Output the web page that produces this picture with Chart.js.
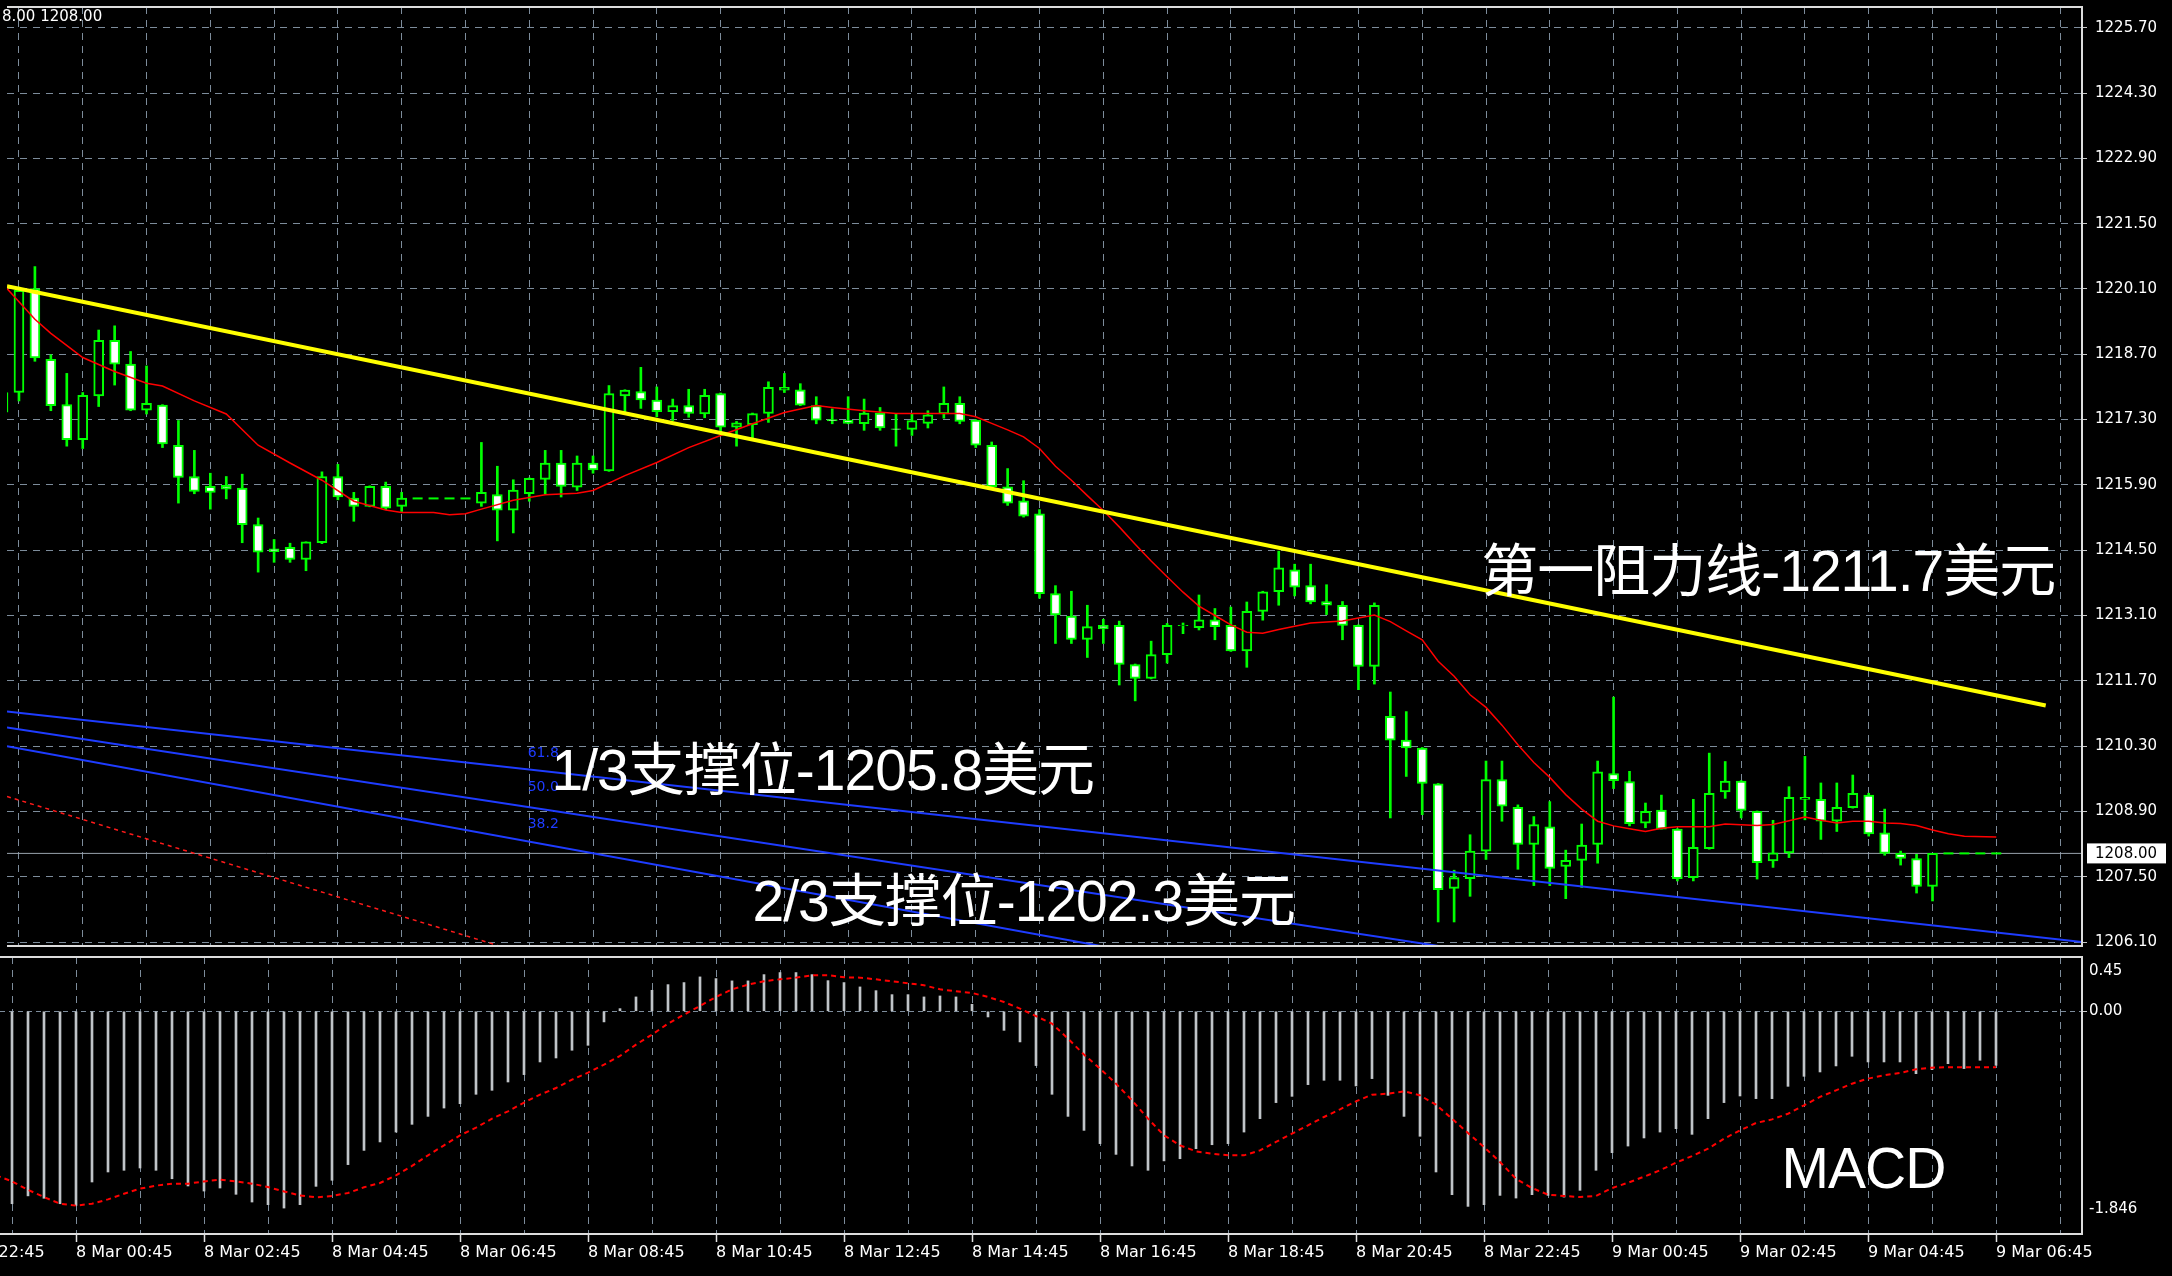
<!DOCTYPE html>
<html>
<head>
<meta charset="utf-8">
<script src="https://cdn.jsdelivr.net/npm/chart.js@4.4.0/dist/chart.umd.min.js"></script>
<style>
  body { margin: 0; background: #000; width: 2172px; height: 1276px; overflow: hidden; }
  #main { position: absolute; left: 0; top: 0; width: 2172px; height: 953px; }
  #macd { position: absolute; left: 0; top: 953px; width: 2172px; height: 323px; }
</style>
</head>
<body>
<div id="main"><canvas id="priceChart" width="2172" height="953"></canvas></div>
<div id="macd"><canvas id="macdChart" width="2172" height="323"></canvas></div>
<script>
// XAUUSD M15, bar 0 = 7 Mar 23:30
const opens = [
  1217.46, 1217.88, 1220.11, 1218.59, 1217.62, 1216.87, 1217.81, 1219.00, 1218.49, 1217.50,
  1217.61, 1216.75, 1216.08, 1215.87, 1215.89, 1215.83, 1215.05, 1214.53, 1214.56, 1214.30,
  1214.66, 1216.08, 1215.62, 1215.44, 1215.87, 1215.44, 1215.61, 1215.61, 1215.61, 1215.61,
  1215.51, 1215.69, 1215.36, 1215.71, 1216.02, 1216.37, 1215.85, 1216.37, 1216.20, 1217.81,
  1217.90, 1217.72, 1217.47, 1217.60, 1217.42, 1217.86, 1217.14, 1217.19, 1217.43, 1217.93,
  1217.94, 1217.60, 1217.30, 1217.29, 1217.21, 1217.44, 1217.10, 1217.09, 1217.22, 1217.42,
  1217.65, 1217.29, 1216.75, 1215.86, 1215.56, 1215.28, 1213.57, 1213.09, 1212.59, 1212.89,
  1212.89, 1212.05, 1211.75, 1212.26, 1212.88, 1212.84, 1213.01, 1212.89, 1212.34, 1213.19,
  1213.61, 1214.08, 1213.74, 1213.40, 1213.32, 1212.89, 1212.01, 1210.94, 1210.43, 1210.26,
  1209.49, 1207.25, 1207.46, 1208.05, 1209.58, 1208.99, 1208.19, 1208.57, 1207.72, 1207.85,
  1208.19, 1209.71, 1209.54, 1208.65, 1208.93, 1208.52, 1207.48, 1208.10, 1209.32, 1209.55,
  1208.90, 1207.84, 1208.01, 1209.16, 1209.16, 1208.69, 1208.98, 1209.25, 1208.44, 1208.00,
  1207.89, 1207.29, 1208.00, 1208.00, 1208.00, 1208.00
];
const highs = [
  1218.10, 1220.14, 1220.58, 1218.69, 1218.29, 1217.88, 1219.22, 1219.31, 1218.76, 1218.45,
  1217.62, 1217.28, 1216.64, 1216.15, 1216.08, 1216.13, 1215.19, 1214.73, 1214.65, 1214.68,
  1216.18, 1216.34, 1215.74, 1215.88, 1215.96, 1215.74, 1215.61, 1215.61, 1215.61, 1215.61,
  1216.81, 1216.30, 1216.01, 1216.05, 1216.64, 1216.64, 1216.52, 1216.52, 1218.03, 1217.94,
  1218.42, 1218.00, 1217.74, 1217.95, 1217.95, 1217.87, 1217.26, 1217.44, 1218.11, 1218.29,
  1218.07, 1217.79, 1217.53, 1217.79, 1217.74, 1217.56, 1217.42, 1217.42, 1217.49, 1218.00,
  1217.79, 1217.30, 1216.82, 1216.25, 1215.99, 1215.37, 1213.74, 1213.62, 1213.32, 1213.02,
  1212.98, 1212.06, 1212.55, 1212.93, 1212.94, 1213.54, 1213.25, 1213.28, 1213.39, 1213.62,
  1214.48, 1214.20, 1214.20, 1213.76, 1213.40, 1212.90, 1213.37, 1211.46, 1211.04, 1210.27,
  1209.50, 1207.64, 1208.40, 1209.98, 1209.98, 1209.04, 1208.79, 1209.11, 1208.07, 1208.63,
  1209.98, 1211.35, 1209.76, 1209.08, 1209.25, 1208.53, 1209.16, 1210.15, 1209.97, 1209.56,
  1208.91, 1208.71, 1209.43, 1210.08, 1209.51, 1209.51, 1209.68, 1209.29, 1208.95, 1208.05,
  1207.98, 1208.00, 1208.00, 1208.00, 1208.00, 1208.00
];
const lows = [
  1217.30, 1217.70, 1218.55, 1217.49, 1216.73, 1216.68, 1217.58, 1218.04, 1217.49, 1217.42,
  1216.70, 1215.51, 1215.71, 1215.38, 1215.60, 1214.66, 1214.03, 1214.24, 1214.24, 1214.06,
  1214.64, 1215.58, 1215.12, 1215.43, 1215.37, 1215.33, 1215.61, 1215.61, 1215.61, 1215.61,
  1215.44, 1214.70, 1214.87, 1215.55, 1215.71, 1215.64, 1215.78, 1216.15, 1216.19, 1217.46,
  1217.54, 1217.36, 1217.28, 1217.35, 1217.34, 1217.03, 1216.73, 1216.89, 1217.24, 1217.88,
  1217.60, 1217.21, 1217.21, 1217.21, 1217.07, 1217.07, 1216.73, 1216.96, 1217.12, 1217.33,
  1217.21, 1216.70, 1215.84, 1215.46, 1215.21, 1213.47, 1212.50, 1212.50, 1212.20, 1212.50,
  1211.61, 1211.27, 1211.74, 1212.08, 1212.71, 1212.79, 1212.58, 1212.33, 1211.99, 1213.00,
  1213.32, 1213.52, 1213.35, 1213.12, 1212.58, 1211.51, 1211.63, 1208.76, 1209.65, 1208.83,
  1206.53, 1206.53, 1207.08, 1207.87, 1208.69, 1207.66, 1207.31, 1207.31, 1207.03, 1207.27,
  1207.79, 1209.39, 1208.59, 1208.55, 1208.52, 1207.41, 1207.41, 1208.09, 1209.18, 1208.76,
  1207.45, 1207.70, 1207.91, 1208.72, 1208.30, 1208.47, 1208.97, 1208.37, 1207.96, 1207.75,
  1207.15, 1206.98, 1208.00, 1208.00, 1208.00, 1208.00
];
const closes = [
  1217.88, 1220.07, 1218.62, 1217.60, 1216.87, 1217.82, 1219.00, 1218.49, 1217.50, 1217.65,
  1216.78, 1216.06, 1215.76, 1215.74, 1215.81, 1215.05, 1214.46, 1214.47, 1214.30, 1214.68,
  1216.08, 1215.64, 1215.44, 1215.87, 1215.40, 1215.62, 1215.61, 1215.61, 1215.61, 1215.61,
  1215.74, 1215.36, 1215.79, 1216.04, 1216.37, 1215.87, 1216.37, 1216.22, 1217.86, 1217.93,
  1217.72, 1217.47, 1217.60, 1217.43, 1217.82, 1217.14, 1217.23, 1217.43, 1217.99, 1217.99,
  1217.61, 1217.29, 1217.27, 1217.22, 1217.44, 1217.12, 1217.09, 1217.28, 1217.40, 1217.65,
  1217.26, 1216.75, 1215.86, 1215.51, 1215.23, 1213.57, 1213.11, 1212.59, 1212.86, 1212.81,
  1212.05, 1211.75, 1212.26, 1212.89, 1212.89, 1213.01, 1212.86, 1212.34, 1213.19, 1213.61,
  1214.12, 1213.71, 1213.39, 1213.32, 1212.89, 1212.01, 1213.32, 1210.43, 1210.26, 1209.50,
  1207.22, 1207.48, 1208.05, 1209.58, 1209.01, 1208.19, 1208.62, 1207.68, 1207.85, 1208.18,
  1209.75, 1209.56, 1208.64, 1208.90, 1208.52, 1207.46, 1208.13, 1209.29, 1209.55, 1208.92,
  1207.80, 1208.01, 1209.20, 1209.20, 1208.69, 1208.99, 1209.29, 1208.42, 1208.00, 1207.89,
  1207.29, 1208.00, 1208.00, 1208.00, 1208.00, 1208.00
];

// red moving average, read at these bars
const maBars = [0, 2, 3, 5, 7, 9, 10, 12, 14, 16, 18, 20, 22, 24, 25, 27, 28, 29, 30, 32, 34, 36, 37, 39, 41, 43,
  45, 47, 49, 51, 52, 54, 56, 60, 61, 62, 63, 64, 65, 66, 67, 68, 69, 70, 71, 72, 73, 74, 75, 76, 77, 78, 79,
  80, 82, 84, 86, 87, 88, 89, 90, 91, 92, 93, 94, 95, 96, 97, 98, 99, 100, 101, 102, 103, 104, 105, 107, 108,
  110, 111, 112, 113, 114, 115, 116, 117, 118, 119, 120, 121, 122, 123, 125];
const maValues = [1220.20, 1219.45, 1219.15, 1218.63, 1218.33, 1218.08, 1218.02, 1217.70, 1217.42, 1216.75,
  1216.37, 1216.00, 1215.55, 1215.36, 1215.31, 1215.31, 1215.26, 1215.28, 1215.38, 1215.57, 1215.69, 1215.72,
  1215.78, 1216.10, 1216.38, 1216.70, 1216.96, 1217.21, 1217.45, 1217.60, 1217.56, 1217.49, 1217.43, 1217.43,
  1217.36, 1217.22, 1217.08, 1216.93, 1216.68, 1216.30, 1216.00, 1215.67, 1215.35, 1215.00, 1214.63, 1214.27,
  1213.93, 1213.60, 1213.30, 1213.10, 1212.90, 1212.74, 1212.72, 1212.80, 1212.94, 1212.98, 1213.11, 1212.97,
  1212.77, 1212.58, 1212.12, 1211.80, 1211.40, 1211.13, 1210.75, 1210.33, 1209.95, 1209.63, 1209.26, 1208.95,
  1208.69, 1208.59, 1208.53, 1208.47, 1208.54, 1208.57, 1208.57, 1208.63, 1208.60, 1208.62, 1208.70, 1208.78,
  1208.71, 1208.65, 1208.69, 1208.69, 1208.65, 1208.64, 1208.60, 1208.50, 1208.42, 1208.37, 1208.35];

const macdHist = [
  -1.560, -1.595, -1.530, -1.550, -1.595, -1.609, -1.415, -1.332, -1.318, -1.299,
  -1.318, -1.388, -1.448, -1.490, -1.465, -1.517, -1.581, -1.603, -1.631, -1.603,
  -1.451, -1.401, -1.271, -1.153, -1.083, -1.001, -0.937, -0.871, -0.802, -0.766,
  -0.688, -0.655, -0.586, -0.525, -0.420, -0.387, -0.323, -0.282, -0.088, 0.022,
  0.119, 0.174, 0.221, 0.238, 0.285, 0.271, 0.252, 0.252, 0.304, 0.321,
  0.321, 0.304, 0.254, 0.238, 0.202, 0.171, 0.138, 0.138, 0.119, 0.127,
  0.119, 0.058, -0.047, -0.158, -0.254, -0.450, -0.688, -0.871, -0.987, -1.097,
  -1.186, -1.282, -1.318, -1.240, -1.222, -1.139, -1.106, -1.097, -1.001, -0.890,
  -0.757, -0.705, -0.608, -0.572, -0.572, -0.619, -0.558, -0.697, -0.871, -1.036,
  -1.332, -1.520, -1.617, -1.603, -1.526, -1.548, -1.520, -1.526, -1.540, -1.484,
  -1.318, -1.172, -1.117, -1.050, -1.001, -0.973, -1.020, -0.890, -0.757, -0.702,
  -0.724, -0.724, -0.622, -0.539, -0.503, -0.453, -0.373, -0.420, -0.420, -0.420,
  -0.517, -0.484, -0.434, -0.475, -0.406, -0.448
];
const macdSignal = [
  -1.360, -1.410, -1.480, -1.540, -1.595, -1.611, -1.595, -1.559, -1.512, -1.470,
  -1.445, -1.429, -1.429, -1.410, -1.396, -1.410, -1.429, -1.457, -1.493, -1.526,
  -1.542, -1.531, -1.506, -1.459, -1.423, -1.360, -1.282, -1.194, -1.111, -1.028,
  -0.965, -0.890, -0.829, -0.757, -0.691, -0.636, -0.567, -0.509, -0.442, -0.370,
  -0.276, -0.193, -0.102, -0.028, 0.044, 0.119, 0.182, 0.221, 0.249, 0.265,
  0.279, 0.299, 0.299, 0.282, 0.279, 0.265, 0.249, 0.232, 0.216, 0.182,
  0.166, 0.152, 0.119, 0.077, 0.022, -0.040, -0.102, -0.227, -0.359, -0.475,
  -0.600, -0.738, -0.890, -1.028, -1.111, -1.161, -1.180, -1.194, -1.194, -1.153,
  -1.083, -1.014, -0.945, -0.876, -0.813, -0.746, -0.691, -0.683, -0.663, -0.697,
  -0.774, -0.890, -1.009, -1.125, -1.249, -1.388, -1.465, -1.520, -1.531, -1.540,
  -1.531, -1.465, -1.421, -1.371, -1.318, -1.255, -1.200, -1.139, -1.056, -0.987,
  -0.926, -0.896, -0.849, -0.779, -0.710, -0.655, -0.600, -0.558, -0.531, -0.511,
  -0.481, -0.467, -0.464, -0.464, -0.464, -0.464
];

const priceTicks = [1225.70, 1224.30, 1222.90, 1221.50, 1220.10, 1218.70, 1217.30, 1215.90,
  1214.50, 1213.10, 1211.70, 1210.30, 1208.90, 1207.50, 1206.10];
const macdTicks = [0.45, 0.00, -1.846];
const macdTickLabels = ['0.45', '0.00', '-1.846'];
const timeLabelBars = [-3, 5, 13, 21, 29, 37, 45, 53, 61, 69, 77, 85, 93, 101, 109, 117, 125];
const timeLabels = ['7 Mar 22:45', '8 Mar 00:45', '8 Mar 02:45', '8 Mar 04:45', '8 Mar 06:45', '8 Mar 08:45',
  '8 Mar 10:45', '8 Mar 12:45', '8 Mar 14:45', '8 Mar 16:45', '8 Mar 18:45', '8 Mar 20:45', '8 Mar 22:45',
  '9 Mar 00:45', '9 Mar 02:45', '9 Mar 04:45', '9 Mar 06:45'];

// drawn objects
const trendBars = [0.25, 128.1];
const trendPrices = [1220.16, 1211.17];
const fanBars = [0.25, 130.375];
const fan618 = [1211.04, 1206.10];
const fan500 = [1210.70, 1203.91];
const fan382 = [1210.30, 1202.17];
const oldLineBars = [0.25, 31];
const oldLinePrices = [1209.22, 1206.03];
const bidPrice = 1208.00;
const infoText = '8.00 1208.00';

const priceNotes = [
  { bar: 92.7, price: 1213.97, text: '第一阻力线-1211.7美元' },
  { bar: 34.4, price: 1209.69, text: '1/3支撑位-1205.8美元' },
  { bar: 47.0, price: 1206.89, text: '2/3支撑位-1202.3美元' }
];
const fanLabels = [
  { bar: 32.9, price: 1210.15, text: '61.8' },
  { bar: 32.9, price: 1209.41, text: '50.0' },
  { bar: 32.9, price: 1208.62, text: '38.2' }
];
const macdNote = { bar: 111.6, value: -1.335, text: 'MACD' };

// view
const X_MIN = 0.25, X_MAX = 130.375;
const Y_MIN = 1206.015, Y_MAX = 1226.145;
const GRID = '#7d8c9b';
const FRAME = '#dcdcdc';
const GREEN = '#00ff00';
const BIG_FONT = '57px "Liberation Sans", "Noto Sans CJK SC", sans-serif';
const AXIS_FONT = { family: 'DejaVu Sans', size: 15 };

Chart.defaults.font.family = 'DejaVu Sans';
Chart.defaults.color = '#ffffff';

const bars = opens.map((_, i) => i);
const gridBars = [];
for (let b = -3; b <= X_MAX; b += 4) gridBars.push(b);

function pts(xs, ys) {
    return xs.map((x, k) => ({ x: x, y: ys[k] }));
}

function drawFrame(chart) {
    const a = chart.chartArea;
    const ctx = chart.ctx;
    ctx.save();
    ctx.strokeStyle = FRAME;
    ctx.lineWidth = 2;
    ctx.beginPath();
    ctx.moveTo(a.left, a.top);
    ctx.lineTo(a.right, a.top);
    ctx.lineTo(a.right, a.bottom);
    ctx.lineTo(a.left, a.bottom);
    ctx.stroke();
    ctx.restore();
}

function bigText(ctx, text, x, y) {
    ctx.save();
    ctx.font = BIG_FONT;
    ctx.letterSpacing = '-1px';
    ctx.fillText(text, x, y);
    ctx.restore();
}

const priceOverlay = {
    id: 'priceOverlay',
    afterDatasetsDraw(chart) {
        const ctx = chart.ctx;
        const xs = chart.scales.x, ys = chart.scales.y;
        ctx.save();
        ctx.textBaseline = 'middle';
        ctx.textAlign = 'left';

        ctx.fillStyle = '#1e3cff';
        ctx.font = '14px "DejaVu Sans"';
        fanLabels.forEach(l => ctx.fillText(l.text, xs.getPixelForValue(l.bar), ys.getPixelForValue(l.price)));

        ctx.fillStyle = '#ffffff';
        priceNotes.forEach(n => bigText(ctx, n.text, xs.getPixelForValue(n.bar), ys.getPixelForValue(n.price)));

        ctx.font = '15px "DejaVu Sans"';
        ctx.fillText(infoText, 2, 17);
        ctx.restore();
    },
    afterDraw(chart) {
        drawFrame(chart);
        // current price box on the axis
        const ctx = chart.ctx;
        const a = chart.chartArea;
        const y = chart.scales.y.getPixelForValue(bidPrice);
        ctx.save();
        ctx.fillStyle = '#ffffff';
        ctx.fillRect(a.right + 5, y - 10, 79, 20);
        ctx.fillStyle = '#000000';
        ctx.font = '15px "DejaVu Sans"';
        ctx.textBaseline = 'middle';
        ctx.fillText(bidPrice.toFixed(2), a.right + 13, y + 1);
        ctx.restore();
    }
};

const macdOverlay = {
    id: 'macdOverlay',
    afterDraw(chart) {
        drawFrame(chart);
        const ctx = chart.ctx;
        const a = chart.chartArea;
        const ys = chart.scales.y, xs = chart.scales.x;
        ctx.save();
        ctx.fillStyle = '#ffffff';
        ctx.textBaseline = 'middle';
        ctx.font = '15px "DejaVu Sans"';
        macdTicks.forEach((v, k) => {
            let y = ys.getPixelForValue(v);
            y = Math.min(Math.max(y, a.top + 14), a.bottom - 25);
            ctx.fillText(macdTickLabels[k], a.right + 7, y);
        });
        bigText(ctx, macdNote.text, xs.getPixelForValue(macdNote.bar), ys.getPixelForValue(macdNote.value));
        ctx.restore();
    }
};

const xGridOnly = {
    type: 'linear',
    min: X_MIN,
    max: X_MAX,
    offset: false,
    afterBuildTicks: s => { s.ticks = gridBars.map(v => ({ value: v })); },
    ticks: { display: false },
    grid: { color: GRID, lineWidth: 1, drawTicks: false, offset: false },
    border: { display: false, dash: [7, 6] },
    afterFit: s => { s.height = 0; s.paddingLeft = 0; s.paddingRight = 0; }
};

new Chart(document.getElementById('priceChart'), {
    type: 'bar',
    data: {
        datasets: [
            {
                type: 'line', label: 'trend', data: pts(trendBars, trendPrices),
                borderColor: '#ffff00', borderWidth: 4, pointRadius: 0, order: 0
            },
            {
                type: 'line', label: 'MA', data: pts(maBars, maValues),
                borderColor: '#ff0000', borderWidth: 1.5, pointRadius: 0, order: 0
            },
            {
                type: 'line', label: 'fan 61.8', data: pts(fanBars, fan618),
                borderColor: '#1e3cff', borderWidth: 2, pointRadius: 0, order: 0
            },
            {
                type: 'line', label: 'fan 50.0', data: pts(fanBars, fan500),
                borderColor: '#1e3cff', borderWidth: 2, pointRadius: 0, order: 0
            },
            {
                type: 'line', label: 'fan 38.2', data: pts(fanBars, fan382),
                borderColor: '#1e3cff', borderWidth: 2, pointRadius: 0, order: 0
            },
            {
                type: 'line', label: 'old line', data: pts(oldLineBars, oldLinePrices),
                borderColor: '#ff1a1a', borderWidth: 1.5, borderDash: [4, 4], pointRadius: 0, order: 0
            },
            {
                type: 'line', label: 'flat', showLine: false,
                data: bars.filter(i => opens[i] === closes[i]).map(i => ({ x: i, y: closes[i] })),
                pointStyle: 'line', pointRadius: 5, pointBorderWidth: 2, borderColor: GREEN, order: 1
            },
            {
                label: 'body', data: bars.map(i => ({ x: i, y: [opens[i], closes[i]] })),
                backgroundColor: bars.map(i => closes[i] < opens[i] ? '#ffffff' : '#000000'),
                borderColor: GREEN, borderWidth: 2, borderSkipped: false,
                barThickness: 10, grouped: false, order: 2
            },
            {
                label: 'wick', data: bars.map(i => ({ x: i, y: [lows[i], highs[i]] })),
                backgroundColor: GREEN, barThickness: 2, grouped: false, order: 3
            },
            {
                type: 'line', label: 'bid', data: pts([X_MIN, X_MAX], [bidPrice, bidPrice]),
                borderColor: '#98a2ac', borderWidth: 1, pointRadius: 0, order: 4
            }
        ]
    },
    options: {
        responsive: false,
        animation: false,
        devicePixelRatio: 1,
        layout: { padding: { top: 2, bottom: 2, left: 0, right: 0 } },
        plugins: { legend: { display: false }, tooltip: { enabled: false } },
        scales: {
            x: xGridOnly,
            y: {
                type: 'linear',
                position: 'right',
                min: Y_MIN,
                max: Y_MAX,
                afterBuildTicks: s => { s.ticks = priceTicks.map(v => ({ value: v })); },
                ticks: { color: '#ffffff', font: AXIS_FONT, padding: 8, callback: v => v.toFixed(2) },
                grid: { color: GRID, tickLength: 5, tickColor: '#c8c8c8', tickBorderDash: [] },
                border: { display: false, dash: [7, 6] },
                afterFit: s => { s.width = 90; s.paddingTop = 0; s.paddingBottom = 0; }
            }
        }
    },
    plugins: [priceOverlay]
});

new Chart(document.getElementById('macdChart'), {
    type: 'bar',
    data: {
        datasets: [
            {
                type: 'line', label: 'signal', data: bars.map(i => ({ x: i, y: macdSignal[i] })),
                borderColor: '#ff0000', borderWidth: 2, borderDash: [5, 4], pointRadius: 0, order: 0
            },
            {
                label: 'MACD', data: bars.map(i => ({ x: i, y: macdHist[i] })),
                backgroundColor: '#c0c4c8', barThickness: 2, grouped: false, order: 1
            }
        ]
    },
    options: {
        responsive: false,
        animation: false,
        devicePixelRatio: 1,
        layout: { padding: { top: 4, bottom: 0, left: 0, right: 0 } },
        plugins: { legend: { display: false }, tooltip: { enabled: false } },
        scales: {
            x: {
                type: 'linear',
                min: X_MIN,
                max: X_MAX,
                offset: false,
                afterBuildTicks: s => { s.ticks = gridBars.map(v => ({ value: v })); },
                ticks: {
                    color: '#ffffff', font: { family: 'DejaVu Sans', size: 16 }, padding: 1,
                    align: 'start', maxRotation: 0, autoSkip: false,
                    callback: v => {
                        const k = timeLabelBars.indexOf(v);
                        return k >= 0 ? timeLabels[k] : '';
                    }
                },
                grid: {
                    color: GRID, tickLength: 8, tickWidth: 1.5, tickBorderDash: [], offset: false,
                    tickColor: c => (c.tick && timeLabelBars.indexOf(c.tick.value) >= 0) ? '#e0e0e0' : 'rgba(0,0,0,0)'
                },
                border: { display: false, dash: [7, 6] },
                afterFit: s => { s.height = 42; s.paddingLeft = 0; s.paddingRight = 0; }
            },
            y: {
                type: 'linear',
                position: 'right',
                min: macdTicks[2],
                max: macdTicks[0],
                afterBuildTicks: s => { s.ticks = [{ value: 0 }]; },
                ticks: { display: false },
                grid: { color: GRID, tickLength: 5, tickColor: '#c8c8c8', tickBorderDash: [] },
                border: { display: false, dash: [5, 4] },
                afterFit: s => { s.width = 90; s.paddingTop = 0; s.paddingBottom = 0; }
            }
        }
    },
    plugins: [macdOverlay]
});
</script>
</body>
</html>
